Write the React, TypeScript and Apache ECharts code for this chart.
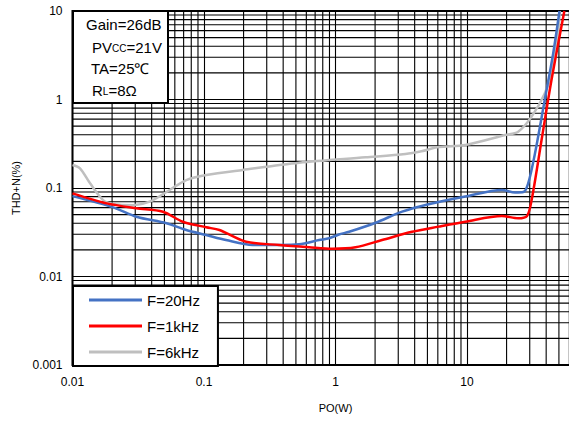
import React, { useEffect, useRef } from 'react';
import * as echarts from 'echarts';

const FONT = '"Liberation Sans", Arial, Helvetica, sans-serif';

// F = 20 Hz
const f20Power = [0.01, 0.0204, 0.0306, 0.0518, 0.0733, 0.104, 0.147, 0.234, 0.373, 0.529, 0.75, 0.893, 1.06, 1.27, 2.02, 3.21, 5.1, 9.7, 18.4, 23.2, 26.8, 29.2, 32.9, 39, 45.2, 50.5];
const f20Thd = [0.081, 0.0605, 0.0474, 0.040, 0.0335, 0.0294, 0.0258, 0.0227, 0.0227, 0.0231, 0.0258, 0.027, 0.0298, 0.032, 0.0405, 0.054, 0.0655, 0.080, 0.095, 0.089, 0.09, 0.113, 0.247, 0.99, 3.3, 10];

// F = 1 kHz
const f1kPower = [0.01, 0.0182, 0.0306, 0.0487, 0.069, 0.104, 0.131, 0.209, 0.373, 0.63, 0.946, 1.42, 2.26, 3.82, 6.08, 9.7, 18.4, 24.5, 28.6, 31, 36.9, 43.9, 55];
const f1kThd = [0.087, 0.067, 0.059, 0.054, 0.0416, 0.036, 0.0335, 0.0247, 0.0227, 0.0214, 0.0206, 0.0214, 0.0258, 0.032, 0.0366, 0.0416, 0.0483, 0.0455, 0.0483, 0.073, 0.348, 1.66, 10];

// F = 6 kHz
const f6kPower = [0.01, 0.0114, 0.0136, 0.0171, 0.0204, 0.0289, 0.0386, 0.0548, 0.0733, 0.104, 0.197, 0.529, 1.69, 3.4, 4.5, 6.08, 9.7, 19.5, 24.5, 31, 39, 43.9, 49.3, 50.8];
const f6kThd = [0.182, 0.167, 0.113, 0.073, 0.066, 0.064, 0.070, 0.095, 0.123, 0.140, 0.160, 0.193, 0.222, 0.242, 0.26, 0.29, 0.306, 0.397, 0.433, 0.64, 1.17, 1.98, 5.6, 10];

// minor (2..9 per decade) grid line positions of the log-log paper
const xMinorLines = [
  0.02, 0.03, 0.04, 0.05, 0.06, 0.07, 0.08, 0.09,
  0.2, 0.3, 0.4, 0.5, 0.6, 0.7, 0.8, 0.9,
  2, 3, 4, 5, 6, 7, 8, 9,
  20, 30, 40, 50, 60, 70, 80, 90,
];
const yMinorLines = [
  0.002, 0.003, 0.004, 0.005, 0.006, 0.007, 0.008, 0.009,
  0.02, 0.03, 0.04, 0.05, 0.06, 0.07, 0.08, 0.09,
  0.2, 0.3, 0.4, 0.5, 0.6, 0.7, 0.8, 0.9,
  2, 3, 4, 5, 6, 7, 8, 9,
];

const X_MIN = 0.01;
const X_MAX = 100;
const Y_MIN = 0.001;
const Y_MAX = 10;

const zip = (xs: number[], ys: number[]) => xs.map((x, i) => [x, ys[i]]);
const fmt = (v: number) => String(Number(Number(v).toPrecision(3)));

export default function App() {
  const ref = useRef<HTMLDivElement>(null);
  useEffect(() => {
    const chart = echarts.init(ref.current!, undefined, { renderer: 'svg' });
    const gridLineStyle = { stroke: '#000', lineWidth: 1.1 };
    const richSub = {
      n: { fontSize: 15, fontFamily: FONT, lineHeight: 16, verticalAlign: 'bottom' },
      s: { fontSize: 10, fontFamily: FONT, lineHeight: 16, verticalAlign: 'bottom', padding: [0, 0, 2, 0] },
    };
    const option: any = {
      animation: false,
      backgroundColor: '#fff',
      textStyle: { fontFamily: FONT },
      grid: {
        left: 72.5,
        top: 11,
        width: 526,
        height: 354,
        show: true,
        borderColor: '#000',
        borderWidth: 2,
        backgroundColor: 'transparent',
      },
      xAxis: {
        type: 'log',
        logBase: 10,
        min: X_MIN,
        max: X_MAX,
        name: 'PO(W)',
        nameLocation: 'middle',
        nameGap: 37,
        nameTextStyle: { fontSize: 11, color: '#000', fontFamily: FONT },
        axisLine: { show: false },
        axisTick: { show: false },
        axisLabel: { fontSize: 12, color: '#000', fontFamily: FONT, margin: 11, formatter: fmt, showMaxLabel: false },
        splitLine: { show: true, lineStyle: { color: '#000', width: 1.1 } },
      },
      yAxis: {
        type: 'log',
        logBase: 10,
        min: Y_MIN,
        max: Y_MAX,
        name: 'THD+N(%)',
        nameLocation: 'middle',
        nameGap: 51,
        nameTextStyle: { fontSize: 11, color: '#000', fontFamily: FONT },
        axisLine: { show: false },
        axisTick: { show: false },
        axisLabel: { fontSize: 12, color: '#000', fontFamily: FONT, margin: 10, formatter: fmt },
        splitLine: { show: true, lineStyle: { color: '#000', width: 1.1 } },
      },
      legend: {
        orient: 'vertical',
        left: 73,
        top: 286,
        padding: [6, 18, 6, 16],
        itemGap: 10,
        itemWidth: 53,
        itemHeight: 3,
        icon: 'rect',
        backgroundColor: '#fff',
        borderColor: '#000',
        borderWidth: 2,
        borderRadius: 0,
        textStyle: { fontSize: 15, lineHeight: 16, color: '#000', fontFamily: FONT },
        data: ['F=20Hz', 'F=1kHz', 'F=6kHz'],
        z: 20,
      },
      series: [
        {
          type: 'custom',
          name: 'vgrid',
          silent: true,
          z: 1,
          clip: true,
          data: xMinorLines.map((v) => [v, Y_MIN]),
          renderItem: (params: any, api: any) => {
            const v = api.value(0);
            const p1 = api.coord([v, Y_MIN]);
            const p2 = api.coord([v, Y_MAX]);
            return { type: 'line', shape: { x1: p1[0], y1: p1[1], x2: p2[0], y2: p2[1] }, style: gridLineStyle };
          },
        },
        {
          type: 'custom',
          name: 'hgrid',
          silent: true,
          z: 1,
          clip: true,
          data: yMinorLines.map((v) => [X_MIN, v]),
          renderItem: (params: any, api: any) => {
            const v = api.value(1);
            const p1 = api.coord([X_MIN, v]);
            const p2 = api.coord([X_MAX, v]);
            return { type: 'line', shape: { x1: p1[0], y1: p1[1], x2: p2[0], y2: p2[1] }, style: gridLineStyle };
          },
        },
        {
          type: 'line',
          name: 'F=6kHz',
          data: zip(f6kPower, f6kThd),
          smooth: 0.3,
          symbol: 'none',
          z: 3,
          lineStyle: { color: '#BFBFBF', width: 2.5 },
          itemStyle: { color: '#BFBFBF' },
        },
        {
          type: 'line',
          name: 'F=20Hz',
          data: zip(f20Power, f20Thd),
          smooth: 0.3,
          symbol: 'none',
          z: 4,
          lineStyle: { color: '#4472C4', width: 2.5 },
          itemStyle: { color: '#4472C4' },
        },
        {
          type: 'line',
          name: 'F=1kHz',
          data: zip(f1kPower, f1kThd),
          smooth: 0.3,
          symbol: 'none',
          z: 5,
          lineStyle: { color: '#FF0000', width: 2.5 },
          itemStyle: { color: '#FF0000' },
        },
      ],
      graphic: [
        {
          type: 'rect',
          z: 100,
          shape: { x: 73, y: 11, width: 95, height: 92 },
          style: { fill: '#fff', stroke: '#000', lineWidth: 2 },
        },
        {
          type: 'text',
          z: 101,
          x: 86,
          y: 24,
          style: { text: 'Gain=26dB', fontSize: 15, fontFamily: FONT, fill: '#000', verticalAlign: 'middle' },
        },
        {
          type: 'text',
          z: 101,
          x: 92,
          y: 47,
          style: {
            text: '{n|PV}{s|CC}{n|=21V}',
            fontSize: 15,
            fontFamily: FONT,
            fill: '#000',
            verticalAlign: 'middle',
            rich: richSub,
          },
        },
        {
          type: 'text',
          z: 101,
          x: 91,
          y: 68,
          style: { text: 'TA=25℃', fontSize: 15, fontFamily: FONT, fill: '#000', verticalAlign: 'middle' },
        },
        {
          type: 'text',
          z: 101,
          x: 92,
          y: 90,
          style: {
            text: '{n|R}{s|L}{n|=8Ω}',
            fontSize: 15,
            fontFamily: FONT,
            fill: '#000',
            verticalAlign: 'middle',
            rich: richSub,
          },
        },
      ],
    };
    chart.setOption(option);
    return () => chart.dispose();
  }, []);

  return (
    <div style={{ position: 'fixed', left: 0, top: 0, width: 569, height: 421, overflow: 'hidden', background: '#fff' }}>
      <div ref={ref} style={{ width: 620, height: 421 }} />
    </div>
  );
}
